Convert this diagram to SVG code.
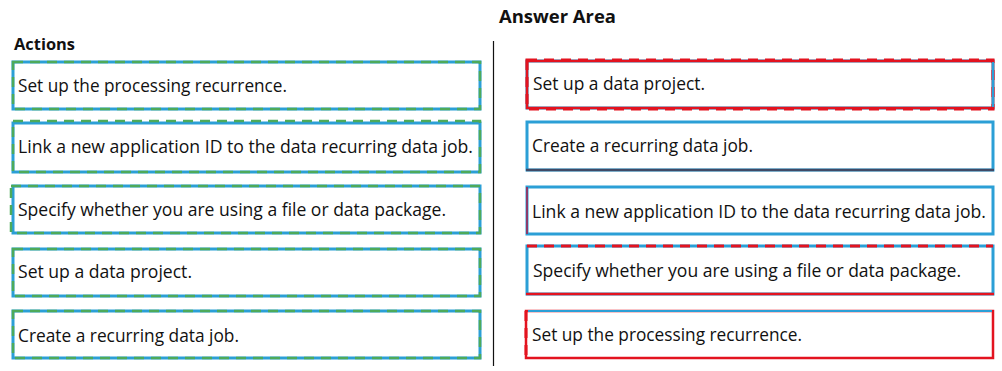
<svg xmlns="http://www.w3.org/2000/svg" width="1002" height="371" viewBox="0 0 1002 371">
<style>
.bg{fill:#fff}
.box{fill:#fff;stroke:#2b9fd6;stroke-width:3}
.gd{fill:none;stroke:#4daa5a;stroke-width:2.5;stroke-dasharray:10 7}
.rd{fill:none;stroke:#e3131f;stroke-width:3;stroke-dasharray:10 7}
.rs{fill:none;stroke:#e3131f;stroke-width:2.5}
.t{font-family:"Open Sans","Liberation Sans",sans-serif;font-size:18px;fill:#111}
.h{font-family:"Open Sans","Liberation Sans",sans-serif;font-weight:bold;fill:#111}
</style>
<rect class="bg" width="1002" height="371"/>
<text class="h" x="499" y="23" font-size="18" textLength="117" lengthAdjust="spacingAndGlyphs">Answer Area</text>
<text class="h" x="14" y="50" font-size="16" textLength="61" lengthAdjust="spacingAndGlyphs">Actions</text>
<g id="connectors"><line x1="493.5" y1="41" x2="493.5" y2="366" stroke="#111" stroke-width="1.2"/></g>
<g id="a1"><rect class="box" x="13" y="62" width="467" height="47"/><rect class="gd" x="13" y="62" width="467" height="47"/><text class="t" x="18" y="92" textLength="269" lengthAdjust="spacingAndGlyphs">Set up the processing recurrence.</text></g>
<g id="a2"><rect class="box" x="13" y="123" width="467" height="49"/><rect class="gd" x="13" y="121" width="467" height="51"/><text class="t" x="18" y="153" textLength="455" lengthAdjust="spacingAndGlyphs">Link a new application ID to the data recurring data job.</text></g>
<g id="a3"><rect class="box" x="13" y="186" width="467" height="47"/><rect class="gd" x="11" y="186" width="469" height="47"/><text class="t" x="18" y="216" textLength="428" lengthAdjust="spacingAndGlyphs">Specify whether you are using a file or data package.</text></g>
<g id="a4"><rect class="box" x="13" y="249" width="467" height="47"/><rect class="gd" x="13" y="249" width="467" height="47"/><text class="t" x="18" y="278" textLength="174" lengthAdjust="spacingAndGlyphs">Set up a data project.</text></g>
<g id="a5"><rect class="box" x="13" y="311" width="467" height="47"/><rect class="gd" x="13" y="311" width="467" height="47"/><text class="t" x="18" y="342" textLength="221" lengthAdjust="spacingAndGlyphs">Create a recurring data job.</text></g>
<g id="b1"><rect class="box" x="527" y="61" width="466" height="47"/><rect class="rs" x="527" y="61" width="466" height="47" stroke-width="1.5"/><rect class="rd" x="527" y="60" width="466" height="49"/><line x1="993" y1="62" x2="993" y2="107" stroke="#2b9fd6" stroke-width="2"/><text class="t" x="533" y="90" textLength="172" lengthAdjust="spacingAndGlyphs">Set up a data project.</text></g>
<g id="b2"><rect class="box" x="527" y="122" width="466" height="48"/><line x1="526" y1="170" x2="994" y2="170" stroke="#3f4a66" stroke-width="2.5"/><text class="t" x="532" y="152" textLength="221" lengthAdjust="spacingAndGlyphs">Create a recurring data job.</text></g>
<g id="b3"><rect class="box" x="527" y="187" width="466" height="47"/><line x1="527" y1="187" x2="527" y2="234" stroke="#8b3a6a" stroke-width="2"/><text class="t" x="532" y="218" textLength="454" lengthAdjust="spacingAndGlyphs">Link a new application ID to the data recurring data job.</text></g>
<g id="b4"><rect class="box" x="527" y="246" width="466" height="48"/><line class="rd" x1="527" y1="246" x2="993" y2="246"/><line x1="526" y1="294" x2="994" y2="294" stroke="#e3131f" stroke-width="2.5"/><text class="t" x="533" y="277" textLength="428" lengthAdjust="spacingAndGlyphs">Specify whether you are using a file or data package.</text></g>
<g id="b5"><rect class="rs" x="526" y="311" width="467" height="47" stroke-width="3"/><line x1="528" y1="311" x2="992" y2="311" stroke="#2b9fd6" stroke-width="2"/><line class="rd" x1="526" y1="311" x2="526" y2="358" stroke-width="2.5"/><text class="t" x="532" y="341" textLength="270" lengthAdjust="spacingAndGlyphs">Set up the processing recurrence.</text></g>
</svg>
